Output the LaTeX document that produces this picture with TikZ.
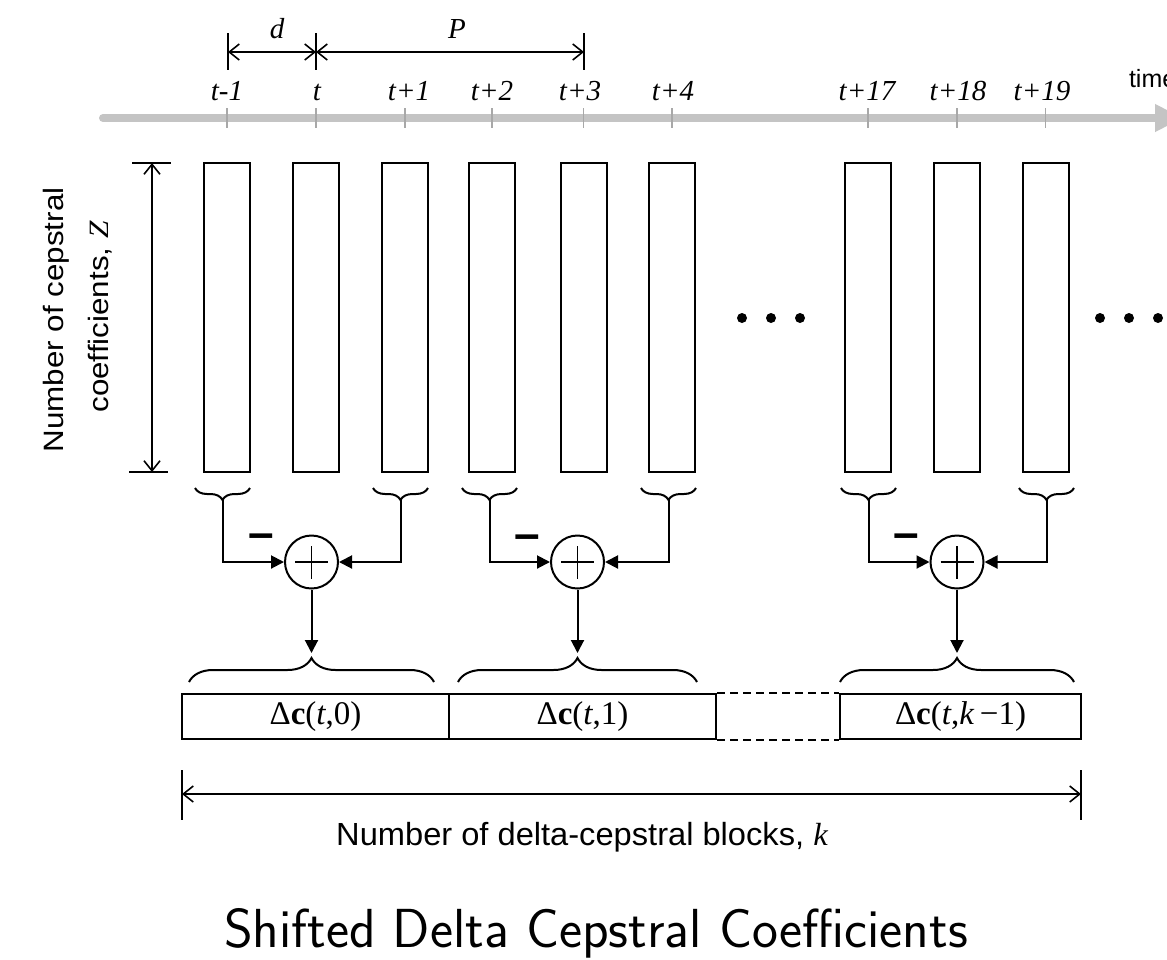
\documentclass[tikz,border=0pt]{standalone}
\usepackage{fontspec}
\newfontfamily\lsans{Liberation Sans}
\newfontfamily\lserif{Liberation Serif}
\usetikzlibrary{arrows.meta,decorations.pathreplacing,calc}
\definecolor{axisgray}{HTML}{C4C4C4}
\definecolor{tickgray}{HTML}{A8A8A8}
\begin{document}
\begin{tikzpicture}[x=0.5pt,y=-0.5pt,line width=1pt,
  frame/.style={draw, minimum width=23pt, minimum height=154.5pt, inner sep=0pt},
  ticklbl/.style={font=\lserif\itshape\fontsize{14.5}{17}\selectfont, anchor=base, inner sep=0pt},
  sanslbl/.style={font=\lsans\fontsize{16}{18}\selectfont, anchor=base, inner sep=0pt, xscale=1.02},
  rotlbl/.style={rotate=90, font=\lsans\fontsize{14}{16}\selectfont, anchor=base, inner sep=0pt, xscale=1.12},
  axis/.style={line width=4pt, draw=axisgray, line cap=round, -{Triangle[length=14pt,width=13pt]}},
  tickmark/.style={draw=tickgray, line width=0.8pt},
  dimline/.style={line width=0.8pt, {Straight Barb[length=5pt,width=8pt]}-{Straight Barb[length=5pt,width=8pt]}},
  bar/.style={line width=0.8pt},
  sbrace/.style={decorate, decoration={brace, amplitude=6pt, mirror}},
  bbrace/.style={decorate, decoration={brace, amplitude=12pt}},
  adder/.style={circle, draw, minimum size=26.5pt, inner sep=0pt},
  plus/.style={line width=0.7pt},
  flow/.style={-{Triangle[length=6.5pt,width=6.5pt]}},
  minus/.style={font=\lsans\bfseries\fontsize{23}{23}\selectfont, anchor=base, inner sep=0pt},
  blk/.style={draw, minimum height=22.5pt, inner sep=0pt, font=\lserif\fontsize{16.5}{18}\selectfont},
  dot/.style={circle, fill, inner sep=0pt, minimum size=5pt},
]
\fill[white] (0,0) rectangle (1167,959);
\useasboundingbox (0,0) rectangle (1167,959);

% time axis
\coordinate (axS) at (103,118);
\coordinate (axE) at (1183,118);
\draw[axis] (axS) -- (axE);
\foreach \x in {227,316,405,492,583.5,672,868,957,1045.5}
  \draw[tickmark] (\x,108) -- (\x,128);
\node[font=\lsans\fontsize{12.5}{14}\selectfont, anchor=base west, inner sep=0pt] (timelbl) at (1128,87) {time};

% tick labels
\node[ticklbl] (l1) at (227,100) {t-1};
\node[ticklbl] (l2) at (317,100) {t};
\node[ticklbl] (l3) at (409,100) {t+1};
\node[ticklbl] (l4) at (492,100) {t+2};
\node[ticklbl] (l5) at (580,100) {t+3};
\node[ticklbl] (l6) at (673,100) {t+4};
\node[ticklbl] (l7) at (867,100) {t+17};
\node[ticklbl] (l8) at (958,100) {t+18};
\node[ticklbl] (l9) at (1042,100) {t+19};

% d and P dimensions
\coordinate (dA) at (228,52);
\coordinate (dB) at (316,52);
\coordinate (dC) at (584,52);
\draw[bar] (228,33) -- (228,70);
\draw[bar] (316,33) -- (316,70);
\draw[bar] (584,33) -- (584,70);
\draw[dimline] (dA) -- (dB);
\draw[dimline] (dB) -- (dC);
\node[ticklbl] (dlbl) at (277,38) {d};
\node[ticklbl] (plbl) at (457,38) {P};

% frames
\node[frame] (f1) at (227,317.5) {};
\node[frame] (f2) at (316,317.5) {};
\node[frame] (f3) at (405,317.5) {};
\node[frame] (f4) at (492,317.5) {};
\node[frame] (f5) at (583.5,317.5) {};
\node[frame] (f6) at (672,317.5) {};
\node[frame] (f7) at (868,317.5) {};
\node[frame] (f8) at (957,317.5) {};
\node[frame] (f9) at (1045.5,317.5) {};

% dots
\node[dot] (da1) at (742,318) {};
\node[dot] (da2) at (771,318) {};
\node[dot] (da3) at (800,318) {};
\node[dot] (db1) at (1100,318) {};
\node[dot] (db2) at (1129,318) {};
\node[dot] (db3) at (1158,318) {};

% Z dimension
\coordinate (zT) at (152,163);
\coordinate (zB) at (152,472);
\draw[bar] (132,163) -- (171,163);
\draw[bar] (129,472) -- (168,472);
\draw[dimline] (zT) -- (zB);
\node[rotlbl] (zl1) at (63,320) {Number of cepstral};
\node[rotlbl] (zl2) at (108,317) {coefficients, {\lserif\itshape Z}};

% small braces
\draw[sbrace] (195,488) -- (250,488);
\draw[sbrace] (373,488) -- (428,488);
\draw[sbrace] (462,488) -- (517,488);
\draw[sbrace] (641,488) -- (696,488);
\draw[sbrace] (841,488) -- (896,488);
\draw[sbrace] (1019,488) -- (1074,488);
\coordinate (t1l) at (222.5,500);
\coordinate (t1r) at (400.5,500);
\coordinate (t2l) at (489.5,500);
\coordinate (t2r) at (668.5,500);
\coordinate (t3l) at (868.5,500);
\coordinate (t3r) at (1046.5,500);

% adders
\node[adder] (A1) at (311.5,562) {};
\node[adder] (A2) at (577.5,562) {};
\node[adder] (A3) at (957,562) {};
\foreach \a in {A1,A2,A3}{
  \draw[plus] ([xshift=-8.25pt]\a.center) -- ([xshift=8.25pt]\a.center);
  \draw[plus] ([yshift=-8.25pt]\a.center) -- ([yshift=8.25pt]\a.center);
}
\draw[flow] (t1l) |- (A1.west);
\draw[flow] (t1r) |- (A1.east);
\draw[flow] (t2l) |- (A2.west);
\draw[flow] (t2r) |- (A2.east);
\draw[flow] (t3l) |- (A3.west);
\draw[flow] (t3r) |- (A3.east);
\node[minus] (m1) at (261,548) {–};
\node[minus] (m2) at (527,549) {–};
\node[minus] (m3) at (906,548) {–};

% big braces
\draw[bbrace] (189,682) -- (434,682);
\draw[bbrace] (458,682) -- (697,682);
\draw[bbrace] (840,682) -- (1074,682);
\coordinate (B1) at (311.5,653);
\coordinate (B2) at (577.5,653);
\coordinate (B3) at (957,653);
\draw[flow] (A1.south) -- (B1);
\draw[flow] (A2.south) -- (B2);
\draw[flow] (A3.south) -- (B3);

% blocks
\node[blk, minimum width=133.5pt] (c0) at (315.5,716.5) {Δ\textbf{c}(\textit{t},0)};
\node[blk, minimum width=133.5pt] (c1) at (582.5,716.5) {Δ\textbf{c}(\textit{t},1)};
\node[blk, minimum width=120.5pt] (ck) at (960.5,716.5) {Δ\textbf{c}(\textit{t},\textit{k}\,−1)};
\draw[dash pattern=on 4pt off 2.5pt] (c1.north east) -- (ck.north west);
\draw[dash pattern=on 4pt off 2.5pt] (c1.south east) -- (ck.south west);

% k dimension
\coordinate (kL) at (182,794);
\coordinate (kR) at (1081,794);
\draw[bar] (182,770) -- (182,820);
\draw[bar] (1081,770) -- (1081,820);
\draw[dimline] (kL) -- (kR);
\node[sanslbl] (klbl) at (582,845) {Number of delta-cepstral blocks, {\lserif\itshape k}};

% caption
\node[font=\sffamily\fontsize{27.5}{31}\selectfont, anchor=base, inner sep=0pt] (title) at (596,947) {Shifted Delta Cepstral Coefficients};
\end{tikzpicture}
\end{document}
